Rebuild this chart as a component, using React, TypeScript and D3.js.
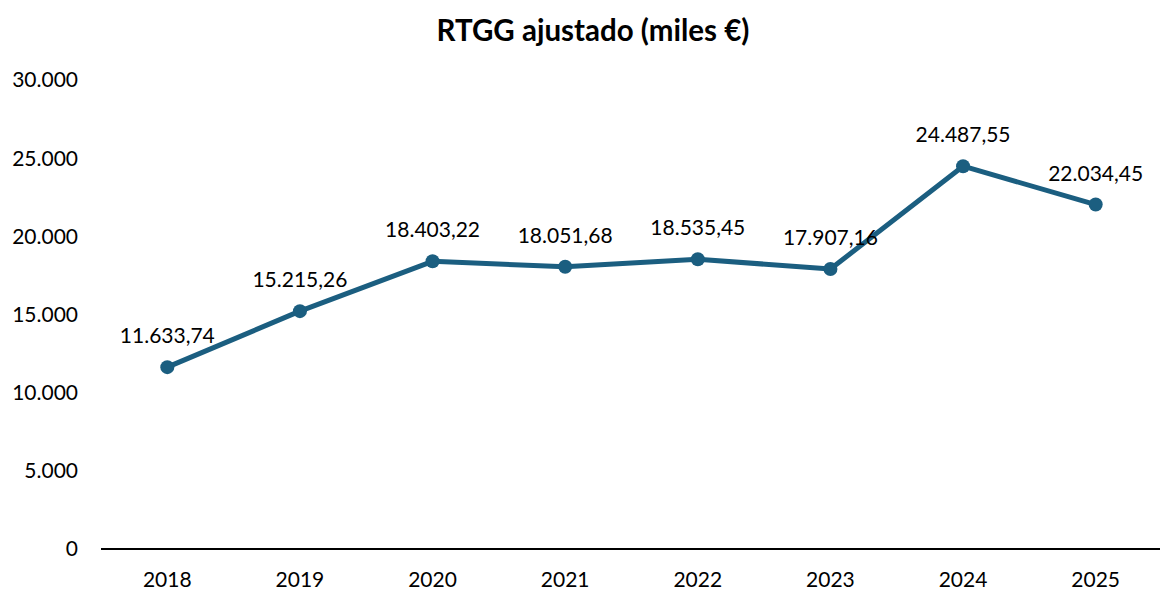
import { useEffect, useRef } from 'react';
import * as d3 from 'd3';

const years = ['2018', '2019', '2020', '2021', '2022', '2023', '2024', '2025'];
const values = [11633.74, 15215.26, 18403.22, 18051.68, 18535.45, 17907.16, 24487.55, 22034.45];
const yTicks = [0, 5000, 10000, 15000, 20000, 25000, 30000];

const W = 1160;
const H = 590;
const FONT = 'Lato, "Open Sans", sans-serif';
const LINE = '#1b5e80';

// Spanish number formats: dot for thousands, comma for decimals
const esLocale = d3.formatLocale({ decimal: ',', thousands: '.', grouping: [3], currency: ['', '€'] });
const fmtTick = esLocale.format(',.0f');
const fmtVal = esLocale.format(',.2f');

export default function App(): React.JSX.Element {
  const svgRef = useRef<SVGSVGElement>(null);

  useEffect(() => {
    if (!svgRef.current) return;
    const svg = d3.select(svgRef.current);
    svg.selectAll('*').remove();

    const x = d3.scaleBand<string>().domain(years).range([101, 1162]);
    const y = d3.scaleLinear().domain([0, 30000]).range([549, 80]);

    svg.append('text')
      .attr('x', 593)
      .attr('y', 41)
      .attr('text-anchor', 'middle')
      .style('font-family', FONT)
      .style('font-size', '29.5px')
      .style('font-weight', 700)
      .attr('fill', '#000')
      .text('RTGG ajustado (miles €)');

    // y labels (no gridlines)
    svg.append('g')
      .selectAll('text')
      .data(yTicks)
      .join('text')
      .attr('x', 78)
      .attr('y', d => y(d))
      .attr('dy', '0.35em')
      .attr('text-anchor', 'end')
      .style('font-family', FONT)
      .style('font-size', '21px')
      .attr('fill', '#000')
      .text(d => fmtTick(d));

    // baseline
    svg.append('line')
      .attr('x1', 101)
      .attr('x2', 1162)
      .attr('y1', y(0))
      .attr('y2', y(0))
      .attr('stroke', '#000')
      .attr('stroke-width', 2);

    svg.append('g')
      .selectAll('text')
      .data(years)
      .join('text')
      .attr('x', d => (x(d) ?? 0) + x.bandwidth() / 2)
      .attr('y', 587)
      .attr('text-anchor', 'middle')
      .style('font-family', FONT)
      .style('font-size', '21px')
      .attr('fill', '#000')
      .text(d => d);

    const pts = years.map((yr, i) => ({ yr, v: values[i] }));
    const line = d3.line<{ yr: string; v: number }>()
      .x(d => (x(d.yr) ?? 0) + x.bandwidth() / 2)
      .y(d => y(d.v));

    svg.append('path')
      .datum(pts)
      .attr('d', line)
      .attr('fill', 'none')
      .attr('stroke', LINE)
      .attr('stroke-width', 5)
      .attr('stroke-linejoin', 'round');

    svg.append('g')
      .selectAll('circle')
      .data(pts)
      .join('circle')
      .attr('cx', d => (x(d.yr) ?? 0) + x.bandwidth() / 2)
      .attr('cy', d => y(d.v))
      .attr('r', 7)
      .attr('fill', LINE);

    svg.append('g')
      .selectAll('text')
      .data(pts)
      .join('text')
      .attr('x', d => (x(d.yr) ?? 0) + x.bandwidth() / 2)
      .attr('y', d => y(d.v) - 24)
      .attr('text-anchor', 'middle')
      .style('font-family', FONT)
      .style('font-size', '21px')
      .attr('fill', '#000')
      .text(d => fmtVal(d.v));
  }, []);

  return (
    <svg
      ref={svgRef}
      width={W}
      height={H}
      style={{ position: 'fixed', left: 0, top: 0, background: '#fff' }}
    />
  );
}
